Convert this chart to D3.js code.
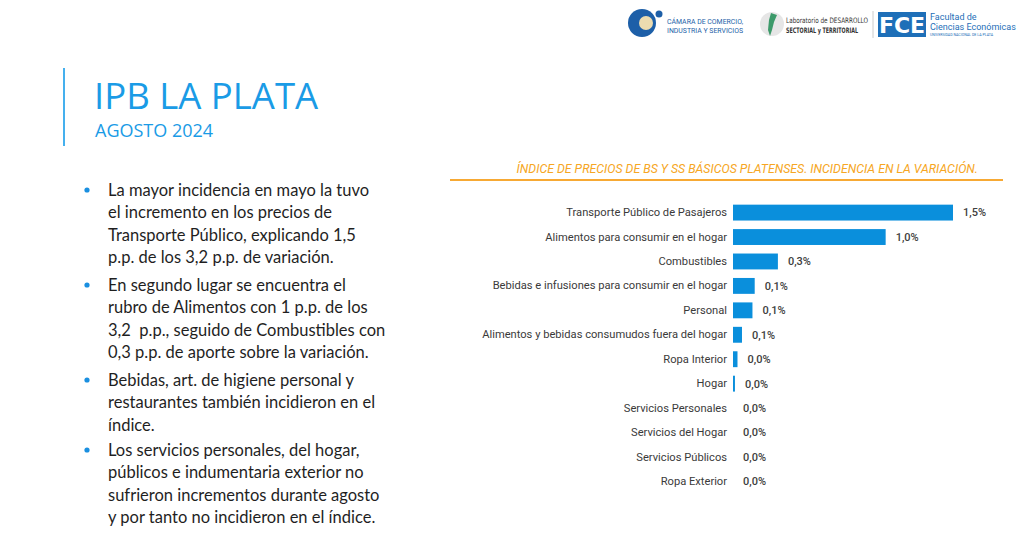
<!DOCTYPE html>
<html><head><meta charset="utf-8">
<script src="https://cdn.jsdelivr.net/npm/d3@7"></script>
<style>html,body{margin:0;padding:0;background:#fff;}svg{display:block;}</style>
</head><body>
<script>
const categories = ["Transporte Público de Pasajeros","Alimentos para consumir en el hogar","Combustibles","Bebidas e infusiones para consumir en el hogar","Personal","Alimentos y bebidas consumudos fuera del hogar","Ropa Interior","Hogar","Servicios Personales","Servicios del Hogar","Servicios Públicos","Ropa Exterior"];
const values = [1.47,1.02,0.30,0.145,0.13,0.06,0.03,0.013,0,0,0,0];
const valueLabels = ["1,5%","1,0%","0,3%","0,1%","0,1%","0,1%","0,0%","0,0%","0,0%","0,0%","0,0%","0,0%"];
const chartTitle = "ÍNDICE DE PRECIOS DE BS Y SS BÁSICOS PLATENSES. INCIDENCIA EN LA VARIACIÓN.";
const mainTitle = "IPB LA PLATA";
const subTitle = "AGOSTO 2024";
const bullets = [
 ["La mayor incidencia en mayo la tuvo","el incremento en los precios de","Transporte Público, explicando 1,5","p.p. de los 3,2 p.p. de variación."],
 ["En segundo lugar se encuentra el","rubro de Alimentos con 1 p.p. de los","3,2  p.p., seguido de Combustibles con","0,3 p.p. de aporte sobre la variación."],
 ["Bebidas, art. de higiene personal y","restaurantes también incidieron en el","índice."],
 ["Los servicios personales, del hogar,","públicos e indumentaria exterior no","sufrieron incrementos durante agosto","y por tanto no incidieron en el índice."]
];
const bulletTops = [190, 285, 380, 450];

const W=1024,H=547;
const svg=d3.select("body").append("svg").attr("width",W).attr("height",H);

// Header title block
svg.append("line").attr("x1",64).attr("x2",64).attr("y1",68).attr("y2",146).attr("stroke","#45b0ee").attr("stroke-width",2);
svg.append("text").attr("x",94).attr("y",108.5).attr("font-family","Open Sans").attr("font-size",36.5).attr("fill","#1a9be6").text(mainTitle);
svg.append("text").attr("x",95).attr("y",137).attr("font-family","Open Sans").attr("font-size",18).attr("fill","#1a9be6").text(subTitle);

// Bullets
const bg=svg.append("g");
bullets.forEach((lines,i)=>{
  bg.append("circle").attr("cx",87).attr("cy",bulletTops[i]).attr("r",2.6).attr("fill","#1a8fe0");
  lines.forEach((ln,j)=>{
    bg.append("text").attr("x",108).attr("y",bulletTops[i]+j*22.4).attr("dy","0.35em")
      .attr("font-family","Lato").attr("font-size",16.5).attr("fill","#1f1f1f").attr("xml:space","preserve").text(ln);
  });
});

// Chart title
svg.append("text").attr("x",978).attr("y",169).attr("dy","0.35em").attr("text-anchor","end")
  .attr("font-family","Roboto").attr("font-style","italic").attr("font-size",12.3).attr("fill","#f6a623").text(chartTitle);
svg.append("line").attr("x1",450).attr("x2",1003).attr("y1",180).attr("y2",180).attr("stroke","#f7a934").attr("stroke-width",2);

// Bars
const x=d3.scaleLinear().domain([0,1.47]).range([733,953]);
const y=d3.scaleBand().domain(categories).range([200.5,493.5]).paddingInner(0.35).paddingOuter(0.17);
const g=svg.append("g");
g.selectAll("rect").data(categories).join("rect")
  .attr("x",x(0)).attr("y",d=>y(d)).attr("height",y.bandwidth())
  .attr("width",(d,i)=>x(values[i])-x(0)).attr("fill","#0a8fdc");
const yAxis=d3.axisLeft(y).tickSize(0).tickPadding(6);
const ag=g.append("g").attr("transform",`translate(${x(0)},0)`).call(yAxis);
ag.select(".domain").remove();
ag.selectAll("text").attr("font-family","Roboto").attr("font-size",11.15).attr("fill","#3a3a3a");
g.selectAll("text.val").data(categories).join("text").attr("class","val")
  .attr("x",(d,i)=>x(values[i])+10).attr("y",d=>y(d)+y.bandwidth()/2).attr("dy","0.35em")
  .attr("font-family","Roboto").attr("font-weight",500).attr("font-size",11).attr("fill","#404040")
  .text((d,i)=>valueLabels[i]);

// Logos
const lg=svg.append("g");
// Camara
lg.append("circle").attr("cx",642).attr("cy",23).attr("r",14).attr("fill","#1d5fa8");
lg.append("circle").attr("cx",646).attr("cy",23).attr("r",7).attr("fill","#ecdcb0");
lg.append("circle").attr("cx",659).attr("cy",14).attr("r",3.5).attr("fill","#1d5fa8");
lg.append("text").attr("x",667).attr("y",24).attr("font-family","Roboto").attr("font-size",7.5).attr("textLength",76).attr("lengthAdjust","spacingAndGlyphs").attr("fill","#1d5fa8").text("CÁMARA DE COMERCIO,");
lg.append("text").attr("x",667).attr("y",33).attr("font-family","Roboto").attr("font-size",7.5).attr("textLength",76).attr("lengthAdjust","spacingAndGlyphs").attr("fill","#1d5fa8").text("INDUSTRIA Y SERVICIOS");
// Laboratorio
lg.append("circle").attr("cx",772).attr("cy",24).attr("r",12).attr("fill","#e6e6e6");
lg.append("path").attr("d","M771,13 L777,15 L774,22 L772,30 L770,36 L768,30 L769,20 Z").attr("fill","#3c9a6a");
lg.append("text").attr("x",786).attr("y",23).attr("font-family","DejaVu Sans Condensed").attr("font-size",7.5).attr("textLength",82).attr("lengthAdjust","spacingAndGlyphs").attr("fill","#333").text("Laboratorio de DESARROLLO");
lg.append("text").attr("x",786).attr("y",33).attr("font-family","DejaVu Sans Condensed").attr("font-size",7.5).attr("font-weight","bold").attr("textLength",72).attr("lengthAdjust","spacingAndGlyphs").attr("fill","#333").text("SECTORIAL y TERRITORIAL");
lg.append("line").attr("x1",873).attr("x2",873).attr("y1",11).attr("y2",38).attr("stroke","#ccc");
// FCE
lg.append("rect").attr("x",878).attr("y",12).attr("width",48).attr("height",25).attr("fill","#1e6fb8");
lg.append("text").attr("x",902).attr("y",33).attr("text-anchor","middle").attr("font-family","DejaVu Sans").attr("font-size",22).attr("font-weight","bold").attr("fill","#fff").text("FCE");
lg.append("text").attr("x",930).attr("y",20).attr("font-family","Roboto").attr("font-size",9).attr("fill","#1e6fb8").text("Facultad de");
lg.append("text").attr("x",930).attr("y",30).attr("font-family","Roboto").attr("font-size",9).attr("fill","#1e6fb8").text("Ciencias Económicas");
lg.append("text").attr("x",930).attr("y",36).attr("font-family","Roboto").attr("font-size",3.6).attr("fill","#1e6fb8").text("UNIVERSIDAD NACIONAL DE LA PLATA");
</script>
</body></html>
